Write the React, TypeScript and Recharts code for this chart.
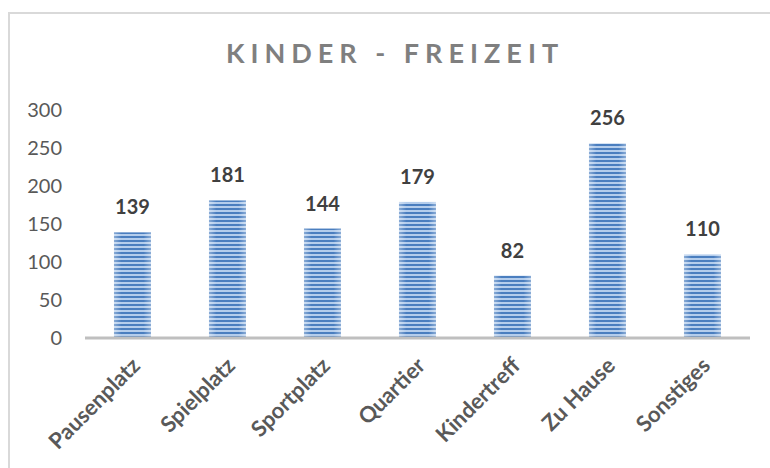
import React from "react";
import { BarChart, Bar, XAxis, YAxis, LabelList } from "recharts";

const categories = ["Pausenplatz", "Spielplatz", "Sportplatz", "Quartier", "Kindertreff", "Zu Hause", "Sonstiges"];
const values = [139, 181, 144, 179, 82, 256, 110];
const yTicks = [0, 50, 100, 150, 200, 250, 300];
const title = "KINDER - FREIZEIT";

const data = categories.map((c, i) => ({ name: c, value: values[i] }));

const FONT = "Lato, 'Open Sans', sans-serif";

const StripedBar = (props: any) => {
  const { x, y, width, height } = props;
  if (height <= 0) return null;
  return (
    <g>
      <rect x={x} y={y} width={width} height={height} fill="url(#stripes)" />
      <rect x={x} y={y} width={width} height={height} fill="url(#edgeGlow)" />
    </g>
  );
};

const XTick = (props: any) => {
  const { x, y, payload } = props;
  return (
    <g transform={`translate(${x + 9},${y + 29}) rotate(-45)`}>
      <text textAnchor="end" x={0} y={0} fill="#595959" fontFamily={FONT} fontWeight={700} fontSize={22}>
        {payload.value}
      </text>
    </g>
  );
};

const TopLabel = (props: any) => {
  const { x, y, width, value } = props;
  return (
    <text x={x + width / 2} y={y - 18} textAnchor="middle" fill="#404040" fontFamily={FONT} fontWeight={700} fontSize={20}>
      {value}
    </text>
  );
};

export default function App() {
  return (
    <div style={{ position: "absolute", left: 0, top: 0, width: 770, height: 468, background: "#fff", overflow: "hidden" }}>
      <svg width={0} height={0} style={{ position: "absolute" }}>
        <defs>
          <pattern id="stripes" patternUnits="userSpaceOnUse" width={4} height={4}>
            <rect x={0} y={0} width={4} height={4} fill="#b4cdec" />
            <rect x={0} y={0} width={4} height={2} fill="#4a7ebf" />
          </pattern>
          <linearGradient id="edgeGlow" x1="0" y1="0" x2="1" y2="0">
            <stop offset="0" stopColor="#ffffff" stopOpacity={0.35} />
            <stop offset="0.2" stopColor="#ffffff" stopOpacity={0} />
            <stop offset="0.8" stopColor="#ffffff" stopOpacity={0} />
            <stop offset="1" stopColor="#ffffff" stopOpacity={0.35} />
          </linearGradient>
        </defs>
      </svg>
      <div
        style={{
          position: "absolute",
          left: 8,
          top: 12,
          width: 780,
          height: 480,
          borderLeft: "2px solid #d9d9d9",
          borderTop: "2px solid #d9d9d9",
          boxSizing: "border-box",
        }}
      />
      <div
        style={{
          position: "absolute",
          left: 0,
          top: 34,
          width: 790,
          textAlign: "center",
          fontFamily: FONT,
          fontWeight: 700,
          fontSize: 27,
          letterSpacing: 6,
          color: "#7f7f7f",
          lineHeight: "38px",
        }}
      >
        {title}
      </div>
      <div style={{ position: "absolute", left: 0, top: 0 }}>
        <BarChart width={770} height={468} data={data} margin={{ top: 110, right: 20, bottom: 100, left: 25 }} barCategoryGap="30.5%">
          <YAxis
            domain={[0, 300]}
            ticks={yTicks}
            width={60}
            axisLine={false}
            tickLine={false}
            tickSize={0}
            tickMargin={23}
            interval={0}
            tick={{ fill: "#595959", fontFamily: FONT, fontSize: 20 }}
          />
          <XAxis
            dataKey="name"
            height={30}
            axisLine={{ stroke: "#bfbfbf", strokeWidth: 3 }}
            tickLine={false}
            tickSize={0}
            tickMargin={0}
            interval={0}
            tick={<XTick />}
          />
          <Bar dataKey="value" shape={<StripedBar />} isAnimationActive={false}>
            <LabelList dataKey="value" content={<TopLabel />} />
          </Bar>
        </BarChart>
      </div>
    </div>
  );
}
